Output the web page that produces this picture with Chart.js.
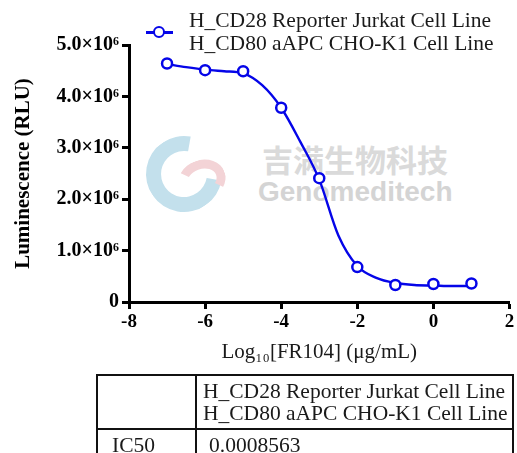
<!DOCTYPE html>
<html>
<head>
<meta charset="utf-8">
<script src="https://cdn.jsdelivr.net/npm/chart.js@4.4.0/dist/chart.umd.min.js"></script>
<style>
  html, body { margin: 0; padding: 0; background: #fff; }
  #wrap { position: relative; width: 517px; height: 453px; overflow: hidden;
          font-family: "Liberation Serif", "Times New Roman", serif; }
  #chart { position: absolute; left: 0; top: 0; z-index: 2; }
  .wm { position: absolute; z-index: 1; white-space: nowrap; }
  #wmCn { left: 262px; top: 136px; font: bold 31px "Noto Sans CJK SC", sans-serif; color: #dadada; }
  #wmEn { left: 258px; top: 176px; font: bold 28px "Liberation Sans", Arial, sans-serif; color: #d4d4d4; }
  #logoBlue { left: 146px; top: 136px; width: 46px; height: 46px; border: 15px solid #c3e0ec;
              border-radius: 50%; border-right-color: transparent; transform: rotate(-35deg); }
  #logoPink { left: 178px; top: 160px; width: 30px; height: 22px; border: 9px solid #f3d3d6;
              border-radius: 50%; border-bottom-color: transparent; border-left-color: transparent; transform: rotate(-20deg); }
  #legend { position: absolute; left: 0; top: 0; z-index: 3; }
  #legLine { position: absolute; left: 146px; top: 31px; width: 27px; height: 3px; background: #0505e8; }
  #legDot { position: absolute; left: 153px; top: 26px; width: 8px; height: 8px; border: 2.5px solid #0505e8;
            border-radius: 50%; background: #fff; }
  #legText { position: absolute; left: 189px; top: 9px; font-size: 21.5px; line-height: 23px; color: #1a1a1a; white-space: nowrap; }
  #tbl { position: absolute; left: 96px; top: 374px; width: 416px; table-layout: fixed; border-collapse: collapse; z-index: 3;
         font-size: 21.5px; color: #1a1a1a; }
  #tbl td { border: 2px solid #111; padding: 0 0 0 6px; vertical-align: middle; white-space: nowrap; overflow: hidden; }
  #tbl tr.h td { height: 52px; line-height: 22px; }
  #tbl tr.r td { height: 30px; }
</style>
</head>
<body>
<div id="wrap">
  <div class="wm" id="logoBlue"></div>
  <div class="wm" id="logoPink"></div>
  <div class="wm" id="wmCn">吉满生物科技</div>
  <div class="wm" id="wmEn">Genomeditech</div>
  <canvas id="chart" width="517" height="380"></canvas>
  <div id="legend">
    <div id="legLine"></div>
    <div id="legDot"></div>
    <div id="legText">H_CD28 Reporter Jurkat Cell Line<br>H_CD80 aAPC CHO-K1 Cell Line</div>
  </div>
  <table id="tbl">
    <colgroup><col style="width:99px"><col style="width:317px"></colgroup>
    <tr class="h"><td></td><td>H_CD28 Reporter Jurkat Cell Line<br>H_CD80 aAPC CHO-K1 Cell Line</td></tr>
    <tr class="r"><td style="padding-left:14px">IC50</td><td style="padding-left:12px">0.0008563</td></tr>
  </table>
</div>
<script>
// measured points, log10 dose vs RLU
const doseLog = [-7, -6, -5, -4, -3, -2, -1, 0, 1];
const rlu = [4.64e6, 4.51e6, 4.49e6, 3.78e6, 2.41e6, 0.68e6, 0.33e6, 0.35e6, 0.36e6];

// fitted curve
const fitX = [-7, -6.5, -6, -5.5, -5, -4.5, -4, -3.5, -3, -2.5, -2, -1.5, -1, -0.5, 0, 0.5, 1];
const fitY = [4.63e6, 4.57e6, 4.52e6, 4.49e6, 4.45e6, 4.22e6, 3.78e6, 3.12e6, 2.38e6, 1.30e6, 0.70e6, 0.47e6, 0.37e6, 0.33e6, 0.32e6, 0.31e6, 0.31e6];

const xTicks = [-8, -6, -4, -2, 0, 2];
const yTicks = [0, 1e6, 2e6, 3e6, 4e6, 5e6];

const blue = "#0505e8";
const serif = "'Liberation Serif', 'Times New Roman', serif";

function yLabel(v){
  if (v === 0) return "0";
  return (v / 1e6).toFixed(1) + "×10⁶";
}

new Chart(document.getElementById("chart"), {
  type: "scatter",
  data: {
    datasets: [
      {
        label: "points",
        data: doseLog.map((x, i) => ({ x, y: rlu[i] })),
        showLine: false,
        pointRadius: 5,
        pointBorderWidth: 2.5,
        pointBorderColor: blue,
        pointBackgroundColor: "#fff",
        order: 0
      },
      {
        label: "fit",
        data: fitX.map((x, i) => ({ x, y: fitY[i] })),
        showLine: true,
        cubicInterpolationMode: "monotone",
        borderColor: blue,
        borderWidth: 2.4,
        pointRadius: 0,
        fill: false,
        order: 1
      }
    ]
  },
  options: {
    responsive: false,
    animation: false,
    layout: { padding: { top: 45, left: 0, right: 2, bottom: 0 } },
    plugins: { legend: { display: false }, tooltip: { enabled: false } },
    scales: {
      x: {
        type: "linear",
        min: -8, max: 2,
        afterBuildTicks: s => { s.ticks = xTicks.map(v => ({ value: v })); },
        afterFit: s => { s.height = 78; s.paddingLeft = 0; s.paddingRight = 0; },
        ticks: { color: "#000", font: { family: serif, size: 19, weight: "bold" }, padding: 2, maxRotation: 0 },
        grid: { drawOnChartArea: false, drawTicks: true, tickLength: 7, tickWidth: 3, tickColor: "#000" },
        border: { display: true, color: "#000", width: 3 },
        title: { display: true, text: "Log₁₀[FR104] (μg/mL)", color: "#1a1a1a",
                 font: { family: serif, size: 21 }, padding: { top: 0, bottom: 15 } }
      },
      y: {
        min: 0, max: 5e6,
        afterBuildTicks: s => { s.ticks = yTicks.map(v => ({ value: v })); },
        afterFit: s => { s.width = 129; s.paddingTop = 0; s.paddingBottom = 0; },
        ticks: { color: "#000", font: { family: serif, size: 20, weight: "bold" }, padding: 3, callback: yLabel },
        grid: { drawOnChartArea: false, drawTicks: true, tickLength: 7, tickWidth: 3, tickColor: "#000" },
        border: { display: true, color: "#000", width: 3 },
        title: { display: true, text: "Luminescence (RLU)", color: "#000",
                 font: { family: serif, size: 21, weight: "bold" }, padding: { top: 11, bottom: 0 } }
      }
    }
  }
});
</script>
</body>
</html>
